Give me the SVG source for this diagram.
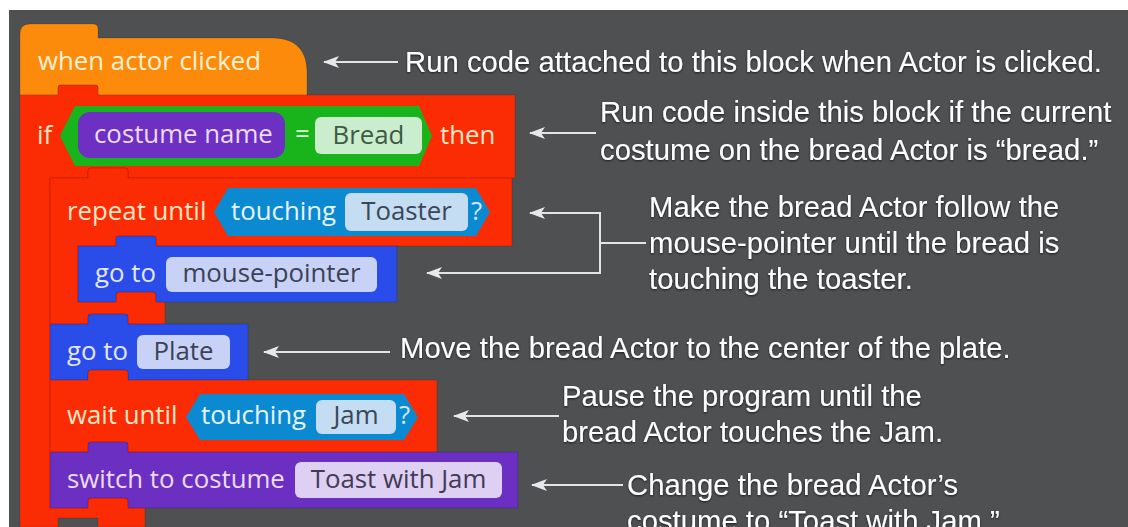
<svg xmlns="http://www.w3.org/2000/svg" width="1128" height="527" viewBox="0 0 1128 527">
<defs>
<style>
.blk{stroke:rgba(0,0,0,0.14);stroke-width:1}
.bt{font-family:"Open Sans","Noto Sans",sans-serif;font-size:25.8px}
.in{font-family:"Open Sans","Noto Sans",sans-serif;font-size:25.8px;text-anchor:middle}
.ann{font-family:"Liberation Sans",Arial,sans-serif;font-size:29.3px;fill:#ffffff;filter:url(#sh)}
.con{stroke:#e4e4e4;stroke-width:2;fill:none}
</style>
<filter id="sh" x="-5%" y="-30%" width="110%" height="160%"><feDropShadow dx="0" dy="1" stdDeviation="1" flood-color="#000" flood-opacity="0.7"/></filter>
<marker id="ah" viewBox="0 0 16 12" refX="15" refY="6" markerWidth="16" markerHeight="12" markerUnits="userSpaceOnUse" orient="auto">
<path d="M16,6 L0,0 L4,6 L0,12 Z" fill="#e8e8e8"/>
</marker>
</defs>
<rect width="1128" height="527" fill="#ffffff"/>
<rect x="9" y="10" width="1119" height="517" fill="#4f5052"/>

<g id="hat">
<path class="blk" fill="#fc8b0b" d="M20,95 V34 Q20,24 30,24 H93 Q98,24 98,29 V38 H272 C297,38 307,52 307,72 V95 H98 V88 Q98,85 95,85 H61 Q58,85 58,88 V95 Z"/>
<text class="bt" x="38" y="70" fill="#fdf1d4">when actor clicked</text>
</g>

<g id="if-block">
<path class="blk" fill="#fb2b03" d="M20,95 H58 V88 Q58,85 61,85 H95 Q98,85 98,88 V95 H515 V178 H128 V171 Q128,168 125,168 H91 Q88,168 88,171 V178 H50 V508 H88 V501 Q88,498 91,498 H125 Q128,498 128,501 V508 H145 V527 H98 V518 H58 V527 H20 Z"/>
<text class="bt" x="37" y="144" fill="#fde6c6">if</text>
<path fill="#19b41c" d="M60,136 L75,106 H419 L432,136 L419,166 H75 Z"/>
<rect x="78" y="112" width="207" height="46" rx="12" fill="#6d30c3"/>
<text class="bt" x="94" y="143" fill="#ecdcfa">costume name</text>
<text class="bt" x="295" y="143" fill="#d9f4d9">=</text>
<rect x="315" y="117" width="107" height="37" rx="6" fill="#c9edcd"/>
<text class="in" x="368.5" y="144" fill="#3d5a44">Bread</text>
<text class="bt" x="440" y="144" fill="#fde6c6">then</text>
</g>

<g id="repeat-block">
<path class="blk" fill="#fb2b03" d="M50,178 H88 V171 Q88,168 91,168 H125 Q128,168 128,171 V178 H512 V246 H156 V239 Q156,236 153,236 H119 Q116,236 116,239 V246 H78 V302 H116 V295 Q116,292 119,292 H153 Q156,292 156,295 V302 H165 V324 H128 V317 Q128,314 125,314 H91 Q88,314 88,317 V324 H50 Z"/>
<text class="bt" x="67" y="220" fill="#fde6c6">repeat until</text>
<path fill="#0b8ad2" d="M214,212 L228,188 H476 L490,212 L476,236 H228 Z"/>
<text class="bt" x="231" y="220" fill="#e6f4ff">touching</text>
<rect x="345" y="193" width="123" height="38" rx="6" fill="#c4ddf2"/>
<text class="in" x="406.5" y="220" fill="#3b4757">Toaster</text>
<text class="bt" x="471" y="220" fill="#d4eaff">?</text>
</g>

<g id="goto-mouse">
<path class="blk" fill="#2a4ce9" d="M78,246 H116 V239 Q116,236 119,236 H153 Q156,236 156,239 V246 H397 V302 H156 V295 Q156,292 153,292 H119 Q116,292 116,295 V302 H78 Z"/>
<text class="bt" x="95" y="282" fill="#e2e7ff">go to</text>
<rect x="166" y="257" width="211" height="35" rx="6" fill="#c8d2f7"/>
<text class="in" x="271.5" y="282" fill="#3b4255">mouse-pointer</text>
</g>

<g id="goto-plate">
<path class="blk" fill="#2a4ce9" d="M50,324 H88 V317 Q88,314 91,314 H125 Q128,314 128,317 V324 H248 V380 H128 V373 Q128,370 125,370 H91 Q88,370 88,373 V380 H50 Z"/>
<text class="bt" x="67" y="360" fill="#e2e7ff">go to</text>
<rect x="137" y="335" width="93" height="34" rx="6" fill="#c8d2f7"/>
<text class="in" x="183.5" y="360" fill="#3b4255">Plate</text>
</g>

<g id="wait-until">
<path class="blk" fill="#fb2b03" d="M50,380 H88 V373 Q88,370 91,370 H125 Q128,370 128,373 V380 H437 V452 H128 V445 Q128,442 125,442 H91 Q88,442 88,445 V452 H50 Z"/>
<text class="bt" x="67" y="424" fill="#fde6c6">wait until</text>
<path fill="#0b8ad2" d="M186,417 L200,394 H404 L418,417 L404,440 H200 Z"/>
<text class="bt" x="201" y="424" fill="#e6f4ff">touching</text>
<rect x="316" y="400" width="80" height="34" rx="6" fill="#c4ddf2"/>
<text class="in" x="356" y="424" fill="#3b4757">Jam</text>
<text class="bt" x="399" y="424" fill="#d4eaff">?</text>
</g>

<g id="switch-costume">
<path class="blk" fill="#6b2fc1" d="M50,452 H88 V445 Q88,442 91,442 H125 Q128,442 128,445 V452 H518 V508 H128 V501 Q128,498 125,498 H91 Q88,498 88,501 V508 H50 Z"/>
<text class="bt" x="67" y="488" fill="#ebdcfb">switch to costume</text>
<rect x="295" y="462" width="207" height="36" rx="6" fill="#ddd0f3"/>
<text class="in" x="398.5" y="488" fill="#433a55">Toast with Jam</text>
</g>

<g id="connectors">
<path class="con" d="M398,62 H324" marker-end="url(#ah)"/>
<path class="con" d="M596,133 H530" marker-end="url(#ah)"/>
<path class="con" d="M600,213 H530" marker-end="url(#ah)"/>
<path class="con" d="M600,273 H427" marker-end="url(#ah)"/>
<path class="con" d="M600,212 V274 M600,243 H646"/>
<path class="con" d="M390,352 H264" marker-end="url(#ah)"/>
<path class="con" d="M559,416 H454" marker-end="url(#ah)"/>
<path class="con" d="M623,485 H532" marker-end="url(#ah)"/>
</g>

<g id="annotations">
<text class="ann" x="405" y="72">Run code attached to this block when Actor is clicked.</text>
<text class="ann" x="600" y="122">Run code inside this block if the current</text>
<text class="ann" x="600" y="160">costume on the bread Actor is “bread.”</text>
<text class="ann" x="649" y="217">Make the bread Actor follow the</text>
<text class="ann" x="649" y="253">mouse-pointer until the bread is</text>
<text class="ann" x="649" y="289">touching the toaster.</text>
<text class="ann" x="400" y="358">Move the bread Actor to the center of the plate.</text>
<text class="ann" x="562" y="406">Pause the program until the</text>
<text class="ann" x="562" y="442">bread Actor touches the Jam.</text>
<text class="ann" x="627" y="495">Change the bread Actor’s</text>
<text class="ann" x="627" y="531">costume to “Toast with Jam.”</text>
</g>
</svg>
